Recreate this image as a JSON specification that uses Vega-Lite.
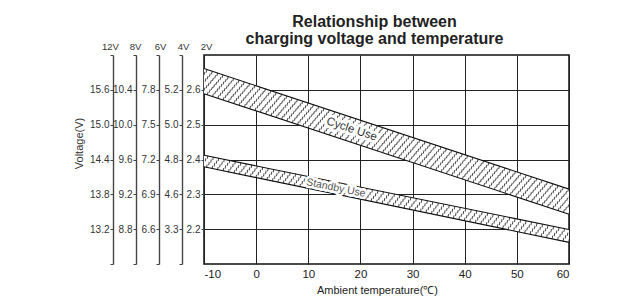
{
  "$schema": "https://vega.github.io/schema/vega-lite/v6.json",
  "width": 365,
  "height": 209,
  "autosize": "none",
  "padding": {"left": 204, "top": 55, "right": 68, "bottom": 41},
  "background": "white",
  "title": {
    "text": ["Relationship between", "charging voltage and temperature"],
    "fontSize": 16,
    "fontWeight": "bold",
    "font": "Liberation Sans",
    "color": "#222",
    "lineHeight": 17,
    "anchor": "middle",
    "dx": -12,
    "dy": 20,
    "offset": 14
  },
  "datasets": {
    "bands": [
      {"use": "Cycle Use", "t": -10, "lo": 2.589, "hi": 2.661, "mid": 2.625},
      {"use": "Cycle Use", "t": 60, "lo": 2.243, "hi": 2.315, "mid": 2.279},
      {"use": "Standby Use", "t": -10, "lo": 2.379, "hi": 2.412, "mid": 2.3955},
      {"use": "Standby Use", "t": 60, "lo": 2.162, "hi": 2.199, "mid": 2.1805}
    ],
    "labels": [
      {"use": "Cycle Use", "t": 18.3, "v": 2.486},
      {"use": "Standby Use", "t": 15.3, "v": 2.318}
    ]
  },
  "resolve": {"scale": {"y": "shared"}, "axis": {"y": "independent"}},
  "layer": [
    {
      "data": {"name": "bands"},
      "mark": {"type": "area", "fill": "white", "stroke": null, "opacity": 1},
      "encoding": {
        "x": {"field": "t", "type": "quantitative",
          "scale": {"domain": [-10, 60], "nice": false, "zero": false},
          "axis": {"values": [-10, 0, 10, 20, 30, 40, 50, 60], "labelExpr": "replace(datum.label, '−', '-')", "title": "Ambient temperature(℃)", "titleX": 173, "titleAlign": "center"}},
        "y": {"field": "hi", "type": "quantitative",
          "scale": {"domain": [2.1, 2.7], "nice": false, "zero": false},
          "axis": {"orient": "left", "offset": 0, "values": [2.2, 2.3, 2.4, 2.5, 2.6], "grid": true, "domain": false,
            "format": ".1f", "title": "2V", "titleAngle": 0, "titleX": 2, "titleY": -9}},
        "y2": {"field": "lo"},
        "detail": {"field": "use"}
      }
    },
    {
      "data": {"name": "bands"},
      "transform": [{"filter": "datum.use == 'Cycle Use'"}],
      "mark": {"type": "line", "color": "#444", "strokeWidth": 3.2, "strokeDash": [1, 4.6], "strokeDashOffset": 3.38, "yOffset": -11.0, "strokeCap": "butt"},
      "encoding": {
        "x": {"field": "t", "type": "quantitative"},
        "y": {"field": "mid", "type": "quantitative",
          "axis": {"orient": "left", "offset": 22, "values": [2.1, 2.2, 2.3, 2.4, 2.5, 2.6, 2.7],
            "labelExpr": "abs(datum.value-2.1)<0.01 || abs(datum.value-2.7)<0.01 ? '' : abs(datum.value-2.2)<0.01 ? '3.3' : format(datum.value*2, '.1f')",
            "title": "4V", "titleAngle": 0, "titleX": 1, "titleY": -9}}
      }
    },
    {
      "data": {"name": "bands"},
      "transform": [{"filter": "datum.use == 'Cycle Use'"}],
      "mark": {"type": "line", "color": "#444", "strokeWidth": 3.2, "strokeDash": [1, 4.6], "strokeDashOffset": 5.58, "yOffset": -7.9, "strokeCap": "butt"},
      "encoding": {
        "x": {"field": "t", "type": "quantitative"},
        "y": {"field": "mid", "type": "quantitative",
          "axis": {"orient": "left", "offset": 45, "values": [2.1, 2.2, 2.3, 2.4, 2.5, 2.6, 2.7],
            "labelExpr": "abs(datum.value-2.1)<0.01 || abs(datum.value-2.7)<0.01 ? '' : format(datum.value*3, '.1f')",
            "title": "6V", "titleAngle": 0, "titleX": 1, "titleY": -9}}
      }
    },
    {
      "data": {"name": "bands"},
      "transform": [{"filter": "datum.use == 'Cycle Use'"}],
      "mark": {"type": "line", "color": "#444", "strokeWidth": 3.2, "strokeDash": [1, 4.6], "strokeDashOffset": 2.26, "yOffset": -4.7, "strokeCap": "butt"},
      "encoding": {
        "x": {"field": "t", "type": "quantitative"},
        "y": {"field": "mid", "type": "quantitative",
          "axis": {"orient": "left", "offset": 68, "values": [2.1, 2.2, 2.3, 2.4, 2.5, 2.6, 2.7],
            "labelExpr": "abs(datum.value-2.1)<0.01 || abs(datum.value-2.7)<0.01 ? '' : format(datum.value*4, '.1f')",
            "title": "8V", "titleAngle": 0, "titleX": -1, "titleY": -9}}
      }
    },
    {
      "data": {"name": "bands"},
      "transform": [{"filter": "datum.use == 'Cycle Use'"}],
      "mark": {"type": "line", "color": "#444", "strokeWidth": 3.2, "strokeDash": [1, 4.6], "strokeDashOffset": 4.46, "yOffset": -1.6, "strokeCap": "butt"},
      "encoding": {
        "x": {"field": "t", "type": "quantitative"},
        "y": {"field": "mid", "type": "quantitative",
          "axis": {"orient": "left", "offset": 91, "values": [2.1, 2.2, 2.3, 2.4, 2.5, 2.6, 2.7],
            "labelExpr": "abs(datum.value-2.1)<0.01 || abs(datum.value-2.7)<0.01 ? '' : format(datum.value*6, '.1f')",
            "title": "12V", "titleAngle": 0, "titleX": -3, "titleY": -9}}
      }
    },
    {
      "data": {"name": "bands"},
      "transform": [{"filter": "datum.use == 'Cycle Use'"}],
      "mark": {"type": "line", "color": "#444", "strokeWidth": 3.2, "strokeDash": [1, 4.6], "strokeDashOffset": 1.14, "yOffset": 1.6, "strokeCap": "butt"},
      "encoding": {
        "x": {"field": "t", "type": "quantitative"},
        "y": {"field": "mid", "type": "quantitative",
          "axis": {"orient": "left", "offset": 91, "domain": false, "ticks": false, "labels": false, "grid": false,
            "title": "Voltage(V)", "titleAngle": 270, "titleX": -34, "titleY": 88, "titleFontSize": 11, "titleColor": "#333"}}
      }
    },
    {
      "data": {"name": "bands"},
      "transform": [{"filter": "datum.use == 'Cycle Use'"}],
      "mark": {"type": "line", "color": "#444", "strokeWidth": 3.2, "strokeDash": [1, 4.6], "strokeDashOffset": 3.34, "yOffset": 4.7, "strokeCap": "butt"},
      "encoding": {
        "x": {"field": "t", "type": "quantitative"},
        "y": {"field": "mid", "type": "quantitative", "axis": null}
      }
    },
    {
      "data": {"name": "bands"},
      "transform": [{"filter": "datum.use == 'Cycle Use'"}],
      "mark": {"type": "line", "color": "#444", "strokeWidth": 3.2, "strokeDash": [1, 4.6], "strokeDashOffset": 0.02, "yOffset": 7.9, "strokeCap": "butt"},
      "encoding": {
        "x": {"field": "t", "type": "quantitative"},
        "y": {"field": "mid", "type": "quantitative", "axis": null}
      }
    },
    {
      "data": {"name": "bands"},
      "transform": [{"filter": "datum.use == 'Cycle Use'"}],
      "mark": {"type": "line", "color": "#444", "strokeWidth": 3.2, "strokeDash": [1, 4.6], "strokeDashOffset": 2.22, "yOffset": 11.0, "strokeCap": "butt"},
      "encoding": {
        "x": {"field": "t", "type": "quantitative"},
        "y": {"field": "mid", "type": "quantitative", "axis": null}
      }
    },
    {
      "data": {"name": "bands"},
      "transform": [{"filter": "datum.use == 'Standby Use'"}],
      "mark": {"type": "line", "color": "#444", "strokeWidth": 3.2, "strokeDash": [1, 4.6], "strokeDashOffset": 2.43, "yOffset": -4.6, "strokeCap": "butt"},
      "encoding": {
        "x": {"field": "t", "type": "quantitative"},
        "y": {"field": "mid", "type": "quantitative", "axis": null}
      }
    },
    {
      "data": {"name": "bands"},
      "transform": [{"filter": "datum.use == 'Standby Use'"}],
      "mark": {"type": "line", "color": "#444", "strokeWidth": 3.2, "strokeDash": [1, 4.6], "strokeDashOffset": 4.55, "yOffset": -1.53, "strokeCap": "butt"},
      "encoding": {
        "x": {"field": "t", "type": "quantitative"},
        "y": {"field": "mid", "type": "quantitative", "axis": null}
      }
    },
    {
      "data": {"name": "bands"},
      "transform": [{"filter": "datum.use == 'Standby Use'"}],
      "mark": {"type": "line", "color": "#444", "strokeWidth": 3.2, "strokeDash": [1, 4.6], "strokeDashOffset": 1.05, "yOffset": 1.53, "strokeCap": "butt"},
      "encoding": {
        "x": {"field": "t", "type": "quantitative"},
        "y": {"field": "mid", "type": "quantitative", "axis": null}
      }
    },
    {
      "data": {"name": "bands"},
      "transform": [{"filter": "datum.use == 'Standby Use'"}],
      "mark": {"type": "line", "color": "#444", "strokeWidth": 3.2, "strokeDash": [1, 4.6], "strokeDashOffset": 3.17, "yOffset": 4.6, "strokeCap": "butt"},
      "encoding": {
        "x": {"field": "t", "type": "quantitative"},
        "y": {"field": "mid", "type": "quantitative", "axis": null}
      }
    },
    {
      "data": {"name": "bands"},
      "mark": {"type": "line", "color": "#111", "strokeWidth": 1.1},
      "encoding": {
        "x": {"field": "t", "type": "quantitative"},
        "y": {"field": "hi", "type": "quantitative", "axis": null},
        "detail": {"field": "use"}
      }
    },
    {
      "data": {"name": "bands"},
      "mark": {"type": "line", "color": "#111", "strokeWidth": 1.1},
      "encoding": {
        "x": {"field": "t", "type": "quantitative"},
        "y": {"field": "lo", "type": "quantitative", "axis": null},
        "detail": {"field": "use"}
      }
    },
    {
      "data": {"name": "labels"},
      "transform": [{"filter": "datum.use == 'Cycle Use'"}],
      "mark": {"type": "text", "angle": 18.4, "fontSize": 11.5, "fill": "white", "stroke": "white", "strokeWidth": 6, "strokeJoin": "round"},
      "encoding": {
        "x": {"field": "t", "type": "quantitative"},
        "y": {"field": "v", "type": "quantitative", "axis": null},
        "text": {"field": "use"}
      }
    },
    {
      "data": {"name": "labels"},
      "transform": [{"filter": "datum.use == 'Cycle Use'"}],
      "mark": {"type": "text", "angle": 18.4, "fontSize": 11.5, "fill": "#333"},
      "encoding": {
        "x": {"field": "t", "type": "quantitative"},
        "y": {"field": "v", "type": "quantitative", "axis": null},
        "text": {"field": "use"}
      }
    },
    {
      "data": {"name": "labels"},
      "transform": [{"filter": "datum.use == 'Standby Use'"}],
      "mark": {"type": "text", "angle": 11.6, "fontSize": 10.5, "fill": "white", "stroke": "white", "strokeWidth": 5, "strokeJoin": "round"},
      "encoding": {
        "x": {"field": "t", "type": "quantitative"},
        "y": {"field": "v", "type": "quantitative", "axis": null},
        "text": {"field": "use"}
      }
    },
    {
      "data": {"name": "labels"},
      "transform": [{"filter": "datum.use == 'Standby Use'"}],
      "mark": {"type": "text", "angle": 11.6, "fontSize": 10.5, "fill": "#555"},
      "encoding": {
        "x": {"field": "t", "type": "quantitative"},
        "y": {"field": "v", "type": "quantitative", "axis": null},
        "text": {"field": "use"}
      }
    }
  ],
  "config": {
    "font": "Liberation Sans",
    "view": {"stroke": "#111", "strokeWidth": 1.5},
    "axisX": {
      "grid": true, "gridColor": "#222", "gridOpacity": 1, "gridWidth": 1,
      "domain": false, "ticks": false,
      "labelFontSize": 11.5, "labelColor": "#222", "labelPadding": 4,
      "titleFontSize": 11, "titleFontWeight": "normal", "titleColor": "#222", "titlePadding": 5
    },
    "axisY": {
      "gridColor": "#222", "gridOpacity": 1, "gridWidth": 1,
      "domainColor": "#444", "domainWidth": 1.4,
      "tickColor": "#444", "tickSize": 3, "tickWidth": 1,
      "labelFontSize": 10, "labelColor": "#333", "labelPadding": 1,
      "titleAlign": "center", "titleBaseline": "middle",
      "titleFontSize": 9.5, "titleFontWeight": "normal", "titleColor": "#333"
    }
  }
}
